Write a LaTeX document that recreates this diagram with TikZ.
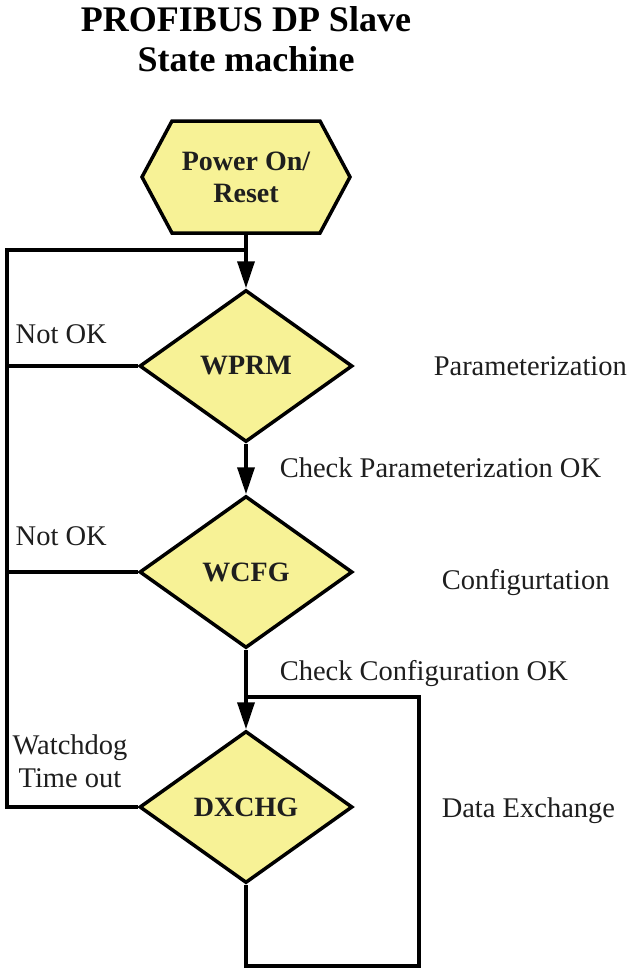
\documentclass[tikz,border=0pt]{standalone}
\usepackage{fontspec}
\setmainfont{Liberation Serif}
\usetikzlibrary{shapes.geometric,arrows.meta}
\definecolor{stfill}{RGB}{247,242,150}
\definecolor{txt}{RGB}{30,30,30}
\begin{document}
\begin{tikzpicture}[x=1pt,y=-1pt,
  line width=3.5pt, line join=miter,
  state/.style={diamond, draw=black, fill=stfill, minimum width=213pt, minimum height=152pt, inner sep=0pt, text=txt, font=\fontsize{28}{32}\selectfont\bfseries},
  lbl/.style={anchor=base west, inner sep=0pt, text=txt, font=\fontsize{28.5}{33}\selectfont},
  lblc/.style={lbl, anchor=base},
  ttl/.style={anchor=base, inner sep=0pt, font=\fontsize{36}{40}\selectfont\bfseries},
  arr/.style={-{Triangle[length=27pt,width=17pt]}}
]
\useasboundingbox (0,0) rectangle (632,970);
\node[ttl] (t1) at (246,31) {PROFIBUS DP Slave};
\node[ttl] (t2) at (246,71) {State machine};

\draw[fill=stfill] (142,177) -- (172,121) -- (320,121) -- (350,177) -- (320,233) -- (172,233) -- cycle;
\node[minimum width=208pt, minimum height=112pt, inner sep=0pt, outer sep=0pt, align=center, text=txt, font=\fontsize{28}{32}\selectfont\bfseries] (por) at (246,177) {Power On/\\Reset};

\node[state] (wprm) at (246,366) {WPRM};
\node[state] (wcfg) at (246,572) {WCFG};
\node[state] (dx) at (246,807) {DXCHG};

\coordinate (jtop) at (246,250);
\coordinate (ltop) at (7,250);
\coordinate (lbot) at (7,807);
\coordinate (ctop) at (246,697);
\coordinate (rtop) at (419,697);
\coordinate (rbot) at (419,966);
\coordinate (cbot) at (246,966);

\draw[arr] (por.south) -- (wprm.north);
\draw[arr] (wprm.south) -- (wcfg.north);
\draw[arr] (wcfg.south) -- (dx.north);
\draw (wprm.west) -- (wprm.west -| ltop);
\draw (wcfg.west) -- (wcfg.west -| ltop);
\draw (dx.west) -- (lbot) -- (ltop) -- (jtop);
\draw (dx.south) -- (cbot) -- (rbot) -- (rtop) -- (ctop);

\node[lbl] (nok1) at (14,343) {Not OK};
\node[lbl] (nok2) at (14,545) {Not OK};
\node[lbl] (par) at (432,375) {Parameterization};
\node[lbl] (cpok) at (278,477) {Check Parameterization OK};
\node[lbl] (cfg) at (440,589) {Configurtation};
\node[lbl] (ccok) at (278,680) {Check Configuration OK};
\node[lblc] (wd1) at (70,754) {Watchdog};
\node[lblc] (wd2) at (70,787) {Time out};
\node[lbl] (dex) at (440,817) {Data Exchange};
\end{tikzpicture}
\end{document}
